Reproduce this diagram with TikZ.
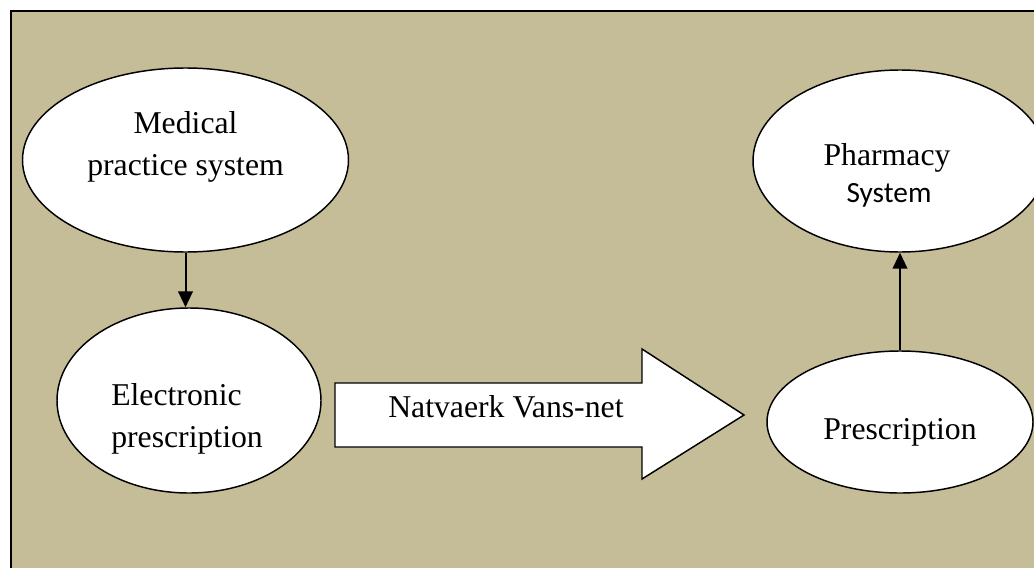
\documentclass[tikz,border=0pt]{standalone}
\usepackage{fontspec}
\setmainfont{Liberation Serif}
\newfontfamily\calibrilike{Carlito}
\usetikzlibrary{shapes.geometric,arrows.meta}
\definecolor{panelfill}{RGB}{196,189,152}
\begin{document}
\begin{tikzpicture}[x=0.75pt,y=-0.75pt,
  bubble/.style={ellipse,draw=black,fill=white,line width=1.1pt,inner sep=0pt},
  label/.style={inner sep=0pt,font=\fontsize{23.8pt}{28pt}\selectfont},
  flow/.style={line width=1.5pt,-{Triangle[length=12pt,width=11pt]}}]
\useasboundingbox (0,0) rectangle (1034,567);
\begin{scope}
\clip (0,0) rectangle (1034,567);
% background panel, running off the right and bottom edges
\draw[fill=panelfill,line width=1.5pt] (11,11) rectangle (1050,590);

% ellipses (sizes in pt)
\node[bubble,minimum width=244.5pt,minimum height=138pt] (med) at (185.5,160) {};
\node[bubble,minimum width=198pt,minimum height=138.75pt] (elec) at (189,400.5) {};
\node[bubble,minimum width=220.5pt,minimum height=136.5pt] (pharm) at (900,161) {};
\node[bubble,minimum width=199.5pt,minimum height=106.5pt] (presc) at (900,422) {};

% texts
\node[label,anchor=base] (medA) at (185.5,133) {Medical};
\node[label,anchor=base] (medB) at (185.5,175) {practice system};
\node[label,anchor=base west] (elecA) at (111,405) {Electronic};
\node[label,anchor=base west] (elecB) at (111,447) {prescription};
\node[label,anchor=base] (pharmA) at (887,165) {Pharmacy};
\node[inner sep=0pt,anchor=base,font=\calibrilike\fontsize{22pt}{26pt}\selectfont] (pharmB) at (889,202) {System};
\node[label,anchor=base] (prescA) at (900,439) {Prescription};

% block arrow for the network
\coordinate (b1) at (335,383);
\coordinate (b2) at (642,383);
\coordinate (b3) at (642,349);
\coordinate (tip) at (744,415);
\coordinate (b5) at (642,479);
\coordinate (b6) at (642,447);
\coordinate (b7) at (335,447);
\draw[fill=white,line width=1.1pt,line join=miter] (b1) -- (b2) -- (b3) -- (tip) -- (b5) -- (b6) -- (b7) -- cycle;
\node[label,anchor=base west] (net) at (388,417) {Natvaerk Vans-net};

% connectors
\draw[flow] (med.south) -- (med.south |- elec.north);
\draw[flow] (presc.north) -- (pharm.south);
\end{scope}
\end{tikzpicture}
\end{document}
